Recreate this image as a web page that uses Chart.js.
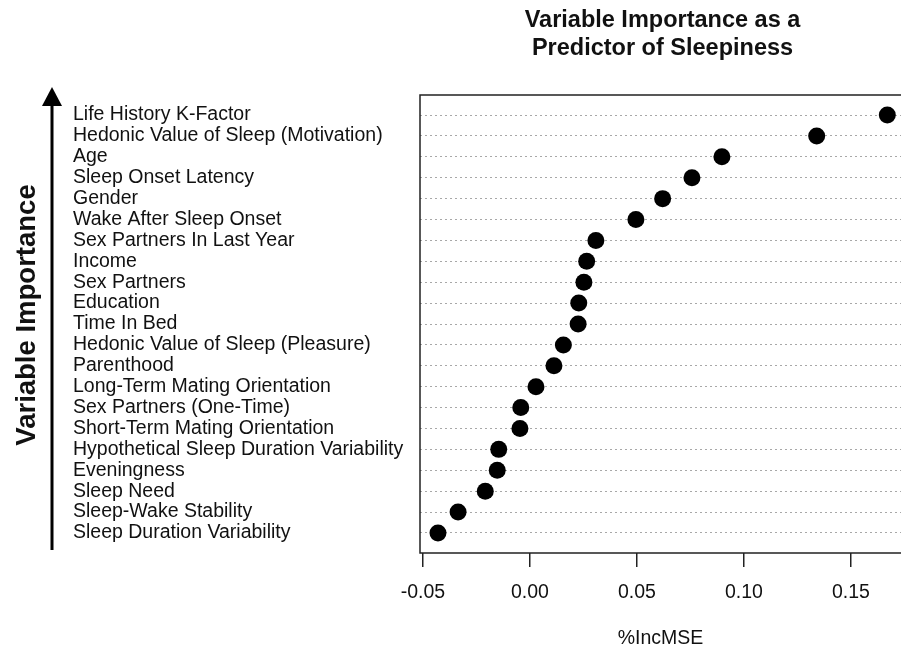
<!DOCTYPE html>
<html>
<head>
<meta charset="utf-8">
<script src="https://cdn.jsdelivr.net/npm/chart.js@4.4.1/dist/chart.umd.min.js"></script>
<style>
  html, body { margin: 0; padding: 0; background: #fff; }
</style>
</head>
<body>
<canvas id="importanceChart" width="901" height="650"></canvas>
<script>
// Predictors, listed top to bottom as in the figure
const predictors = [
    'Life History K-Factor',
    'Hedonic Value of Sleep (Motivation)',
    'Age',
    'Sleep Onset Latency',
    'Gender',
    'Wake After Sleep Onset',
    'Sex Partners In Last Year',
    'Income',
    'Sex Partners',
    'Education',
    'Time In Bed',
    'Hedonic Value of Sleep (Pleasure)',
    'Parenthood',
    'Long-Term Mating Orientation',
    'Sex Partners (One-Time)',
    'Short-Term Mating Orientation',
    'Hypothetical Sleep Duration Variability',
    'Eveningness',
    'Sleep Need',
    'Sleep-Wake Stability',
    'Sleep Duration Variability'
];

// %IncMSE
const incMSE = [
    0.167, 0.134, 0.0897, 0.0757, 0.062, 0.0495, 0.0308,
    0.0265, 0.0252, 0.0228, 0.0225, 0.0156, 0.0112, 0.0028,
    -0.0043, -0.0047, -0.0146, -0.0153, -0.0209, -0.0336, -0.043
];

const xTicks = [-0.05, 0.00, 0.05, 0.10, 0.15];
const titleLines = ['Variable Importance as a', 'Predictor of Sleepiness'];
const yTitle = 'Variable Importance';
const xTitle = '%IncMSE';

const FONT = '"Liberation Sans", Arial, Helvetica, sans-serif';
Chart.defaults.font.family = FONT;
Chart.defaults.color = '#111';

// box, title, rotated y title and the up arrow
const decorations = {
    id: 'decorations',
    afterDraw(chart) {
        const ctx = chart.ctx;
        const area = chart.chartArea;
        ctx.save();

        // open box (right side runs off the figure)
        ctx.strokeStyle = '#222';
        ctx.lineWidth = 1.5;
        ctx.beginPath();
        ctx.moveTo(area.right + 2, area.top);
        ctx.lineTo(area.left, area.top);
        ctx.lineTo(area.left, area.bottom);
        ctx.lineTo(area.right + 2, area.bottom);
        ctx.stroke();

        // main title
        ctx.fillStyle = '#111';
        ctx.font = 'bold 23.5px ' + FONT;
        ctx.textAlign = 'center';
        ctx.textBaseline = 'middle';
        const cx = (area.left + area.right) / 2 + 2;
        titleLines.forEach((line, i) => ctx.fillText(line, cx, 21 + i * 28));

        // y title
        ctx.save();
        ctx.translate(27, 315);
        ctx.rotate(-Math.PI / 2);
        ctx.font = 'bold 27.5px ' + FONT;
        ctx.fillText(yTitle, 0, 0);
        ctx.restore();

        // arrow
        ctx.strokeStyle = '#000';
        ctx.fillStyle = '#000';
        ctx.lineWidth = 3;
        ctx.beginPath();
        ctx.moveTo(52, 550);
        ctx.lineTo(52, 100);
        ctx.stroke();
        ctx.beginPath();
        ctx.moveTo(52, 87);
        ctx.lineTo(42, 106);
        ctx.lineTo(62, 106);
        ctx.closePath();
        ctx.fill();

        ctx.restore();
    }
};

const ctx = document.getElementById('importanceChart').getContext('2d');

const chart = new Chart(ctx, {
    type: 'scatter',
    data: {
        datasets: [{
            data: incMSE.map((v, i) => ({ x: v, y: i })),
            backgroundColor: '#000',
            borderWidth: 0,
            pointRadius: 8.5,
            pointHoverRadius: 8.5
        }]
    },
    options: {
        responsive: false,
        animation: false,
        layout: {
            autoPadding: false,
            padding: { left: 73, top: 95, right: 0, bottom: 0 }
        },
        plugins: {
            legend: { display: false },
            tooltip: { enabled: false }
        },
        scales: {
            x: {
                type: 'linear',
                min: -0.0514,
                max: 0.1734,
                afterBuildTicks: (scale) => {
                    scale.ticks = xTicks.map(v => ({ value: v }));
                },
                afterFit: (scale) => { scale.height = 97; },
                grid: {
                    drawOnChartArea: false,
                    drawTicks: true,
                    tickLength: 14,
                    color: '#222',
                    lineWidth: 1.5
                },
                border: { display: false },
                ticks: {
                    padding: 14,
                    color: '#111',
                    font: { size: 19.5 },
                    maxRotation: 0,
                    callback: (v) => Number(v).toFixed(2)
                },
                title: {
                    display: true,
                    text: xTitle,
                    color: '#111',
                    font: { size: 19.5 },
                    padding: { top: 0, bottom: 0 }
                }
            },
            y: {
                type: 'linear',
                reverse: true,
                min: -0.96,
                max: 20.96,
                afterBuildTicks: (scale) => {
                    scale.ticks = predictors.map((_, i) => ({ value: i }));
                },
                afterFit: (scale) => { scale.width = 347; },
                grid: {
                    drawTicks: false,
                    tickLength: 0,
                    color: '#a8a8a8',
                    lineWidth: 1
                },
                border: { display: false, dash: [2, 3] },
                ticks: {
                    crossAlign: 'far',
                    padding: 15,
                    color: '#111',
                    font: { size: 19.5 },
                    autoSkip: false,
                    callback: (v) => predictors[v]
                }
            }
        }
    },
    plugins: [decorations]
});
</script>
</body>
</html>
